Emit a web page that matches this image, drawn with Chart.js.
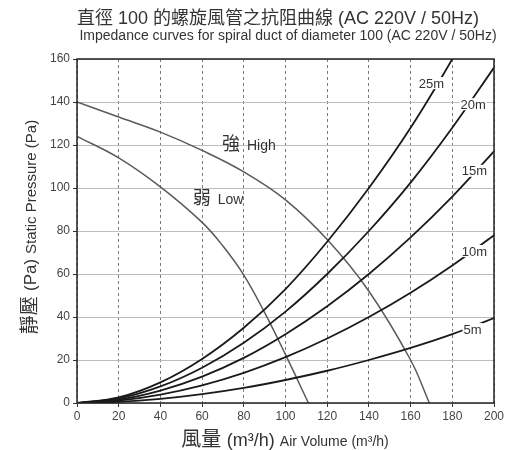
<!DOCTYPE html>
<html>
<head>
<meta charset="utf-8">
<script src="https://cdn.jsdelivr.net/npm/chart.js@4.4.1/dist/chart.umd.min.js"></script>
<style>
    html, body { margin: 0; padding: 0; background: #fff; }
    #wrap { width: 517px; height: 450px; }
</style>
</head>
<body>
<div id="wrap"><canvas id="chart"></canvas></div>
<script>
// 風量 (m3/h) 刻度
const xTicks = [0, 20, 40, 60, 80, 100, 120, 140, 160, 180, 200];
const yTicks = [0, 20, 40, 60, 80, 100, 120, 140, 160];

// 風管阻抗曲線 (長度 5m ~ 25m)
const airVolume = [0, 20, 40, 60, 80, 100, 120, 140, 160, 180, 200];
const duct5m  = [0, 0.5, 1.9, 4.1, 7, 10.7, 15, 20, 25.6, 32, 39.5];
const duct10m = [0, 1.1, 3.9, 8.2, 14, 21.3, 30, 40, 51.3, 64, 78];
const duct15m = [0, 1.6, 5.8, 12.3, 21, 32, 45, 60, 77, 96, 117];
const duct20m = [0, 2.1, 7.7, 16.4, 28, 42.5, 60, 80, 102.5, 128, 156];
const duct25m = [0, 2.6, 9.6, 20.5, 35, 53, 75, 100, 128, 160, 195];
const ductNames = ["5m", "10m", "15m", "20m", "25m"];

// 風扇性能曲線 強 / 弱
const highFlow = [0, 20, 40, 60, 80, 100, 120, 140, 160, 169];
const highPressure = [140, 133, 126, 117.5, 107.5, 94.5, 76, 52, 20, 0];
const lowFlow = [0, 20, 40, 60, 70, 80, 90, 100, 111];
const lowPressure = [124, 114, 100.5, 84, 73, 59.5, 42, 22.5, 0];

// 曲線標籤位置 (資料座標)
const ductLabelX = [189.7, 190.6, 190.6, 190, 170];
const ductLabelY = [34.4, 70.7, 108, 139, 148.8];

const LATIN = '"Liberation Sans", Arial, sans-serif';
const CJK = '"Liberation Sans", "Noto Sans CJK TC", sans-serif';
const TEXT = "#333";

document.addEventListener("DOMContentLoaded", function () {
    const canvas = document.getElementById("chart");

    function toPoints(xs, ys) {
        return xs.map((x, i) => ({ x: x, y: ys[i] }));
    }

    // 把不同字級的文字接在一起畫
    function drawParts(ctx, parts, x, y) {
        let total = 0;
        parts.forEach(p => {
            ctx.font = p.font;
            p.w = ctx.measureText(p.text).width;
            total += p.w;
        });
        let cx = x - total / 2;
        ctx.textAlign = "left";
        parts.forEach(p => {
            ctx.font = p.font;
            ctx.fillText(p.text, cx, y);
            cx += p.w;
        });
    }

    const ductSets = [duct5m, duct10m, duct15m, duct20m, duct25m].map((ys, i) => ({
        label: ductNames[i],
        data: toPoints(airVolume, ys),
        borderColor: "#1a1a1a",
        borderWidth: 1.8,
        pointRadius: 0,
        cubicInterpolationMode: "monotone",
        fill: false
    }));

    const fanSets = [
        { label: "High", data: toPoints(highFlow, highPressure) },
        { label: "Low", data: toPoints(lowFlow, lowPressure) }
    ].map(d => Object.assign(d, {
        borderColor: "#5a5a5a",
        borderWidth: 1.5,
        pointRadius: 0,
        tension: 0.4,
        fill: false
    }));

    // 標題、軸標題、曲線標籤
    const textPlugin = {
        id: "texts",
        afterDatasetsDraw(chart) {
            const ctx = chart.ctx;
            const xs = chart.scales.x;
            const ys = chart.scales.y;
            ctx.save();
            ctx.fillStyle = TEXT;
            ctx.textBaseline = "middle";
            ctx.font = "13px " + LATIN;
            ductNames.forEach((name, i) => {
                const px = xs.getPixelForValue(ductLabelX[i]);
                const py = ys.getPixelForValue(ductLabelY[i]);
                const w = ctx.measureText(name).width;
                ctx.fillStyle = "#fff";
                ctx.fillRect(px - w / 2 - 1, py - 6, w + 2, 12);
                ctx.fillStyle = TEXT;
                ctx.textAlign = "center";
                ctx.fillText(name, px, py + 1);
            });

            ctx.textAlign = "left";
            ctx.font = "18px " + CJK;
            ctx.fillText("強", xs.getPixelForValue(69.5), ys.getPixelForValue(120));
            ctx.fillText("弱", xs.getPixelForValue(55.5), ys.getPixelForValue(95));
            ctx.font = "14px " + LATIN;
            ctx.fillText("High", xs.getPixelForValue(69.5) + 25, ys.getPixelForValue(120) + 1);
            ctx.fillText("Low", xs.getPixelForValue(55.5) + 25, ys.getPixelForValue(95) + 1);
            ctx.restore();
        },
        afterDraw(chart) {
            const ctx = chart.ctx;
            const a = chart.chartArea;
            ctx.save();
            // 外框
            ctx.strokeStyle = "#222";
            ctx.lineWidth = 1.5;
            ctx.strokeRect(a.left, a.top, a.right - a.left, a.bottom - a.top);

            ctx.fillStyle = TEXT;
            ctx.textBaseline = "alphabetic";
            drawParts(ctx, [{ text: "直徑 100 的螺旋風管之抗阻曲線 (AC 220V / 50Hz)", font: "18px " + CJK }], 278, 24);
            drawParts(ctx, [{ text: "Impedance curves for spiral duct of diameter 100 (AC 220V / 50Hz)", font: "14px " + LATIN }], 288, 40);

            drawParts(ctx, [
                { text: "風量 ", font: "20px " + CJK },
                { text: "(m³/h) ", font: "18px " + LATIN },
                { text: "Air Volume (m³/h)", font: "14px " + LATIN }
            ], 285, 446);

            ctx.translate(36, 227);
            ctx.rotate(-Math.PI / 2);
            drawParts(ctx, [
                { text: "靜壓 ", font: "19px " + CJK },
                { text: "(Pa) ", font: "17px " + LATIN },
                { text: "Static Pressure (Pa)", font: "15px " + LATIN }
            ], 0, 0);
            ctx.restore();
        }
    };

    new Chart(canvas, {
        type: "line",
        data: { datasets: ductSets.concat(fanSets) },
        options: {
            responsive: true,
            maintainAspectRatio: false,
            animation: false,
            layout: { padding: { top: 59, right: 23, left: 0, bottom: 0 } },
            plugins: {
                legend: { display: false },
                tooltip: { enabled: false }
            },
            scales: {
                x: {
                    type: "linear",
                    min: xTicks[0],
                    max: xTicks[xTicks.length - 1],
                    afterBuildTicks: s => { s.ticks = xTicks.map(v => ({ value: v })); },
                    afterFit: s => { s.height = 47; },
                    ticks: { color: "#444", font: { size: 12, family: LATIN }, padding: 2 },
                    grid: { color: "#7a7a7a", lineWidth: 1, tickLength: 4, tickColor: "#333" },
                    border: { display: false, dash: [3, 3] }
                },
                y: {
                    min: yTicks[0],
                    max: yTicks[yTicks.length - 1],
                    afterBuildTicks: s => { s.ticks = yTicks.map(v => ({ value: v })); },
                    afterFit: s => { s.width = 77; },
                    ticks: { color: "#444", font: { size: 12, family: LATIN }, padding: 3 },
                    grid: { color: "#bdbdbd", lineWidth: 1, tickLength: 4, tickColor: "#333" },
                    border: { display: false }
                }
            }
        },
        plugins: [textPlugin]
    });
});
</script>
</body>
</html>
